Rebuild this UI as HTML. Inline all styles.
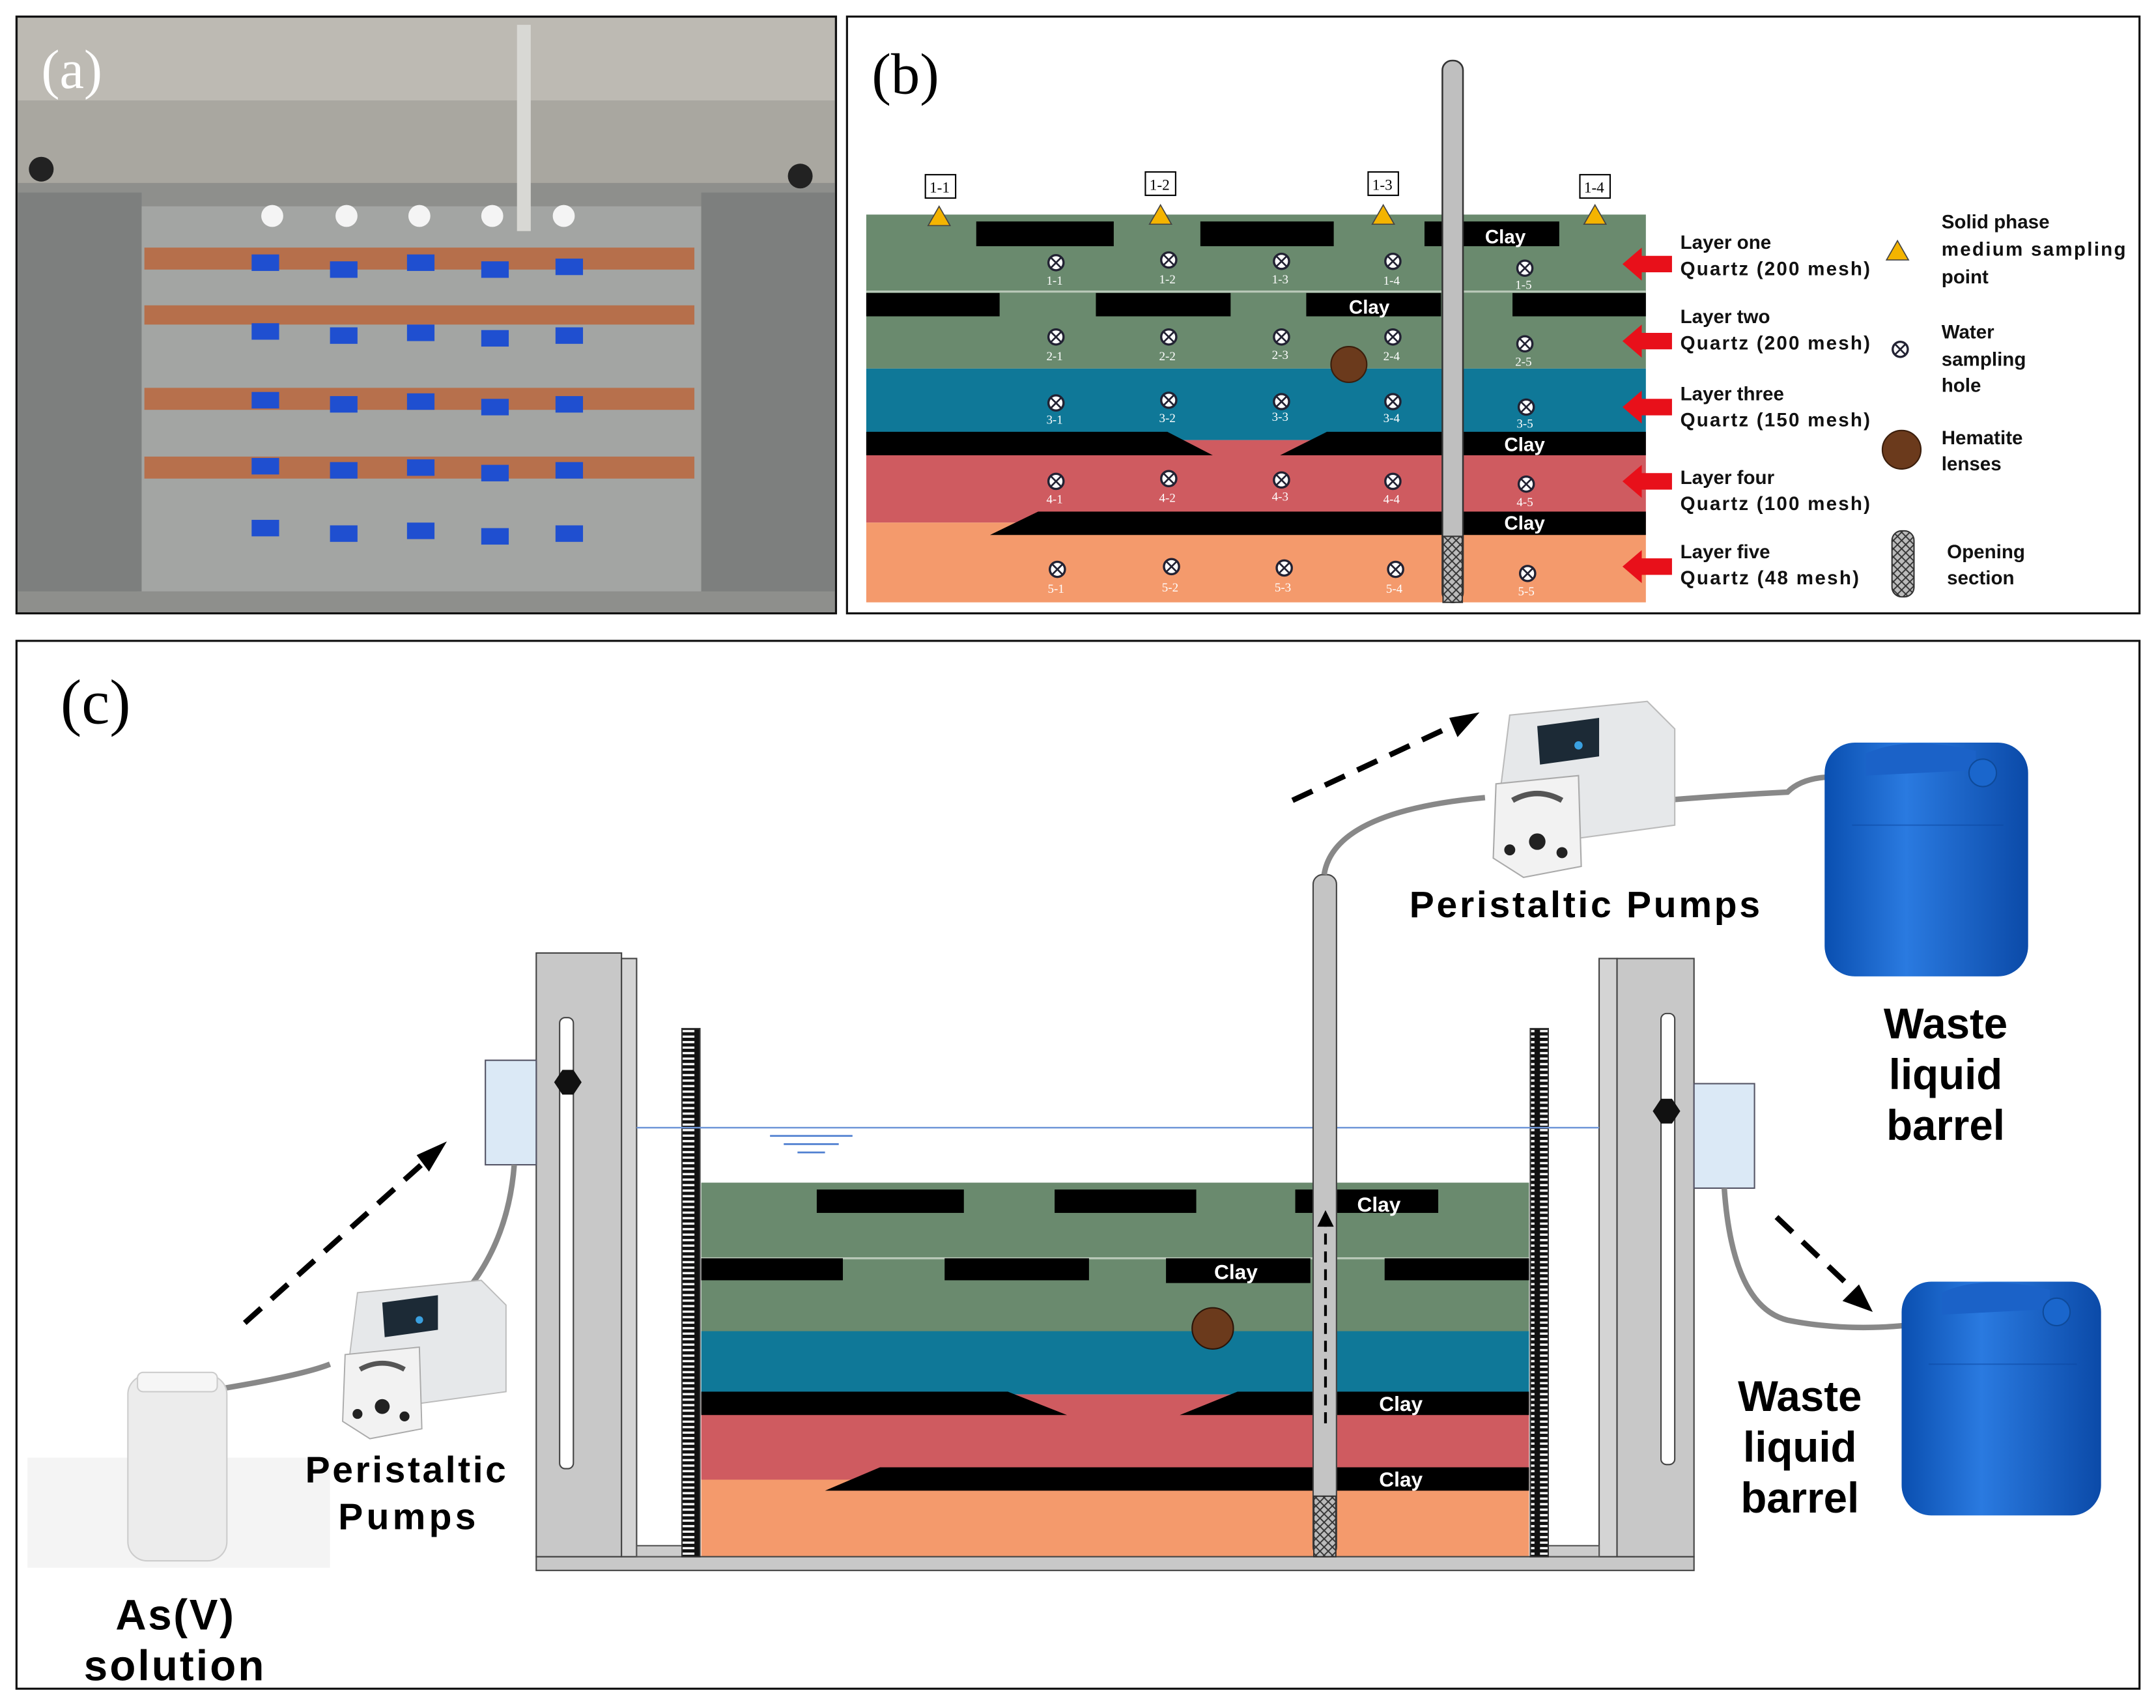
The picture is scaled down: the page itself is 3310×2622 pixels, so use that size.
<!DOCTYPE html>
<html><head><meta charset="utf-8"><style>
html,body{margin:0;padding:0;background:#fff;}
svg{display:block;}
text{font-family:"Liberation Sans",sans-serif;}
.s{font-family:"Liberation Serif",serif;}
</style></head><body>
<svg width="3310" height="2622" viewBox="0 0 1568 1242" xmlns="http://www.w3.org/2000/svg">
<defs>
<g id="hole"><circle r="5.5" fill="#fff" stroke="#223" stroke-width="1.6"/><path d="M-3.5-3.5L3.5 3.5M3.5-3.5L-3.5 3.5" stroke="#223" stroke-width="1.3"/></g>
<g id="tri"><path d="M0-8L8 6H-8Z" fill="#f4b400" stroke="#444" stroke-width="0.8"/></g>
<pattern id="mesh" width="6" height="6" patternUnits="userSpaceOnUse"><rect width="6" height="6" fill="#bbb"/><path d="M0 0L6 6M6 0L0 6" stroke="#333" stroke-width="0.9"/></pattern>
<pattern id="ruler" width="13" height="4" patternUnits="userSpaceOnUse"><rect width="13" height="4" fill="#111"/><rect x="2" y="1" width="9" height="1.6" fill="#fff"/></pattern>
<linearGradient id="bar" x1="0" x2="1"><stop offset="0" stop-color="#0a4fb0"/><stop offset="0.4" stop-color="#2a7ae0"/><stop offset="1" stop-color="#0b4aa8"/></linearGradient>
<g id="pump">
<path d="M20 0L120 -10L140 10L140 80L30 95L10 80Z" fill="#e6e8ea" stroke="#bbb"/>
<path d="M40 8L85 2L85 30L42 36Z" fill="#1c2a36"/>
<circle cx="70" cy="22" r="3" fill="#3aa0e0"/>
<path d="M10 50L70 44L72 110L30 118L8 104Z" fill="#f2f2f2" stroke="#aaa"/>
<path d="M22 62Q40 52 58 62" stroke="#555" stroke-width="4" fill="none"/>
<circle cx="40" cy="92" r="6" fill="#222"/><circle cx="20" cy="98" r="4" fill="#222"/><circle cx="58" cy="100" r="4" fill="#222"/>
</g>
<g id="barrel">
<rect x="0" y="0" width="148" height="170" rx="22" fill="url(#bar)"/>
<path d="M30 8Q60-6 110 6L110 20L30 24Z" fill="#1b62c8"/>
<circle cx="115" cy="22" r="10" fill="#1a66cc" stroke="#0e4a9a"/>
<path d="M20 60H130" stroke="#0d47a0" stroke-width="1" opacity="0.5"/>
</g>
</defs>

<rect x="12" y="12" width="596" height="434" fill="#8e8f8c" stroke="#111" stroke-width="1.5"/>
<rect x="616" y="12" width="940" height="434" fill="#fff" stroke="#111" stroke-width="1.5"/>
<rect x="12" y="466" width="1544" height="762" fill="#fff" stroke="#111" stroke-width="1.5"/>

<rect x="13" y="13" width="594" height="120" fill="#a9a7a0"/>
<rect x="13" y="13" width="594" height="60" fill="#bdbab3"/>
<rect x="100" y="150" width="410" height="280" fill="#a3a5a3"/>
<rect x="13" y="140" width="90" height="290" fill="#7d7f7e"/>
<rect x="510" y="140" width="97" height="290" fill="#7d7f7e"/>
<rect x="376" y="18" width="10" height="150" fill="#d8d8d4"/>
<g fill="#b96a42" opacity="0.9">
<rect x="105" y="180" width="400" height="16"/><rect x="105" y="222" width="400" height="14"/><rect x="105" y="282" width="400" height="16"/><rect x="105" y="332" width="400" height="16"/>
</g>
<g fill="#f4f4f4"><circle cx="198" cy="157" r="8"/><circle cx="252" cy="157" r="8"/><circle cx="305" cy="157" r="8"/><circle cx="358" cy="157" r="8"/><circle cx="410" cy="157" r="8"/></g>
<g fill="#1f4fd0">
<rect x="183" y="185" width="20" height="12"/><rect x="240" y="190" width="20" height="12"/><rect x="296" y="185" width="20" height="12"/><rect x="350" y="190" width="20" height="12"/><rect x="404" y="188" width="20" height="12"/>
<rect x="183" y="235" width="20" height="12"/><rect x="240" y="238" width="20" height="12"/><rect x="296" y="236" width="20" height="12"/><rect x="350" y="240" width="20" height="12"/><rect x="404" y="238" width="20" height="12"/>
<rect x="183" y="285" width="20" height="12"/><rect x="240" y="288" width="20" height="12"/><rect x="296" y="286" width="20" height="12"/><rect x="350" y="290" width="20" height="12"/><rect x="404" y="288" width="20" height="12"/>
<rect x="183" y="333" width="20" height="12"/><rect x="240" y="336" width="20" height="12"/><rect x="296" y="334" width="20" height="12"/><rect x="350" y="338" width="20" height="12"/><rect x="404" y="336" width="20" height="12"/>
<rect x="183" y="378" width="20" height="12"/><rect x="240" y="382" width="20" height="12"/><rect x="296" y="380" width="20" height="12"/><rect x="350" y="384" width="20" height="12"/><rect x="404" y="382" width="20" height="12"/>
</g>
<circle cx="30" cy="123" r="9" fill="#222"/><circle cx="582" cy="128" r="9" fill="#222"/>
<text x="30" y="64" class="s" font-size="40" fill="#fff">(a)</text>

<text x="634" y="68" class="s" font-size="42" fill="#000">(b)</text>
<rect x="630" y="156" width="567" height="112" fill="#6a8a6e"/>
<line x1="630" y1="212" x2="1197" y2="212" stroke="#b8c8b8" stroke-width="1.5"/>
<rect x="630" y="268" width="567" height="52" fill="#0f7898"/>
<rect x="630" y="320" width="567" height="60" fill="#cf5b60"/>
<rect x="630" y="380" width="567" height="58" fill="#f49a6c"/>
<g fill="#000">
<rect x="710" y="161" width="100" height="18"/><rect x="873" y="161" width="97" height="18"/><rect x="1036" y="161" width="98" height="18"/>
<rect x="630" y="213" width="97" height="17"/><rect x="797" y="213" width="98" height="17"/><rect x="950" y="213" width="98" height="17"/><rect x="1100" y="213" width="97" height="17"/>
<path d="M630 314H849L882 331H630Z"/><path d="M1197 314H965L931 331H1197Z"/>
<path d="M720 389L755 372H1197V389Z"/>
</g>
<g fill="#fff" font-weight="bold" font-size="14"><text x="1080" y="177">Clay</text><text x="981" y="228">Clay</text><text x="1094" y="328">Clay</text><text x="1094" y="385">Clay</text></g>
<circle cx="981" cy="265" r="13" fill="#6b3a1c" stroke="#3b1e0c"/>
<rect x="1049" y="44" width="15" height="394" rx="7" fill="#bfbfbf" stroke="#333" stroke-width="1.2"/>
<rect x="1049.5" y="390" width="14" height="48" fill="url(#mesh)" stroke="#333"/>
<g fill="#fff" font-size="9" class="s">
<use href="#hole" x="768" y="191"/><use href="#hole" x="850" y="189"/><use href="#hole" x="932" y="190"/><use href="#hole" x="1013" y="190"/><use href="#hole" x="1109" y="195"/>
<text x="761" y="207" class="s">1-1</text><text x="843" y="206" class="s">1-2</text><text x="925" y="206" class="s">1-3</text><text x="1006" y="207" class="s">1-4</text><text x="1102" y="210" class="s">1-5</text>
<use href="#hole" x="768" y="245"/><use href="#hole" x="850" y="245"/><use href="#hole" x="932" y="245"/><use href="#hole" x="1013" y="245"/><use href="#hole" x="1109" y="250"/>
<text x="761" y="262" class="s">2-1</text><text x="843" y="262" class="s">2-2</text><text x="925" y="261" class="s">2-3</text><text x="1006" y="262" class="s">2-4</text><text x="1102" y="266" class="s">2-5</text>
<use href="#hole" x="768" y="293"/><use href="#hole" x="850" y="291"/><use href="#hole" x="932" y="292"/><use href="#hole" x="1013" y="292"/><use href="#hole" x="1110" y="296"/>
<text x="761" y="308" class="s">3-1</text><text x="843" y="307" class="s">3-2</text><text x="925" y="306" class="s">3-3</text><text x="1006" y="307" class="s">3-4</text><text x="1103" y="311" class="s">3-5</text>
<use href="#hole" x="768" y="350"/><use href="#hole" x="850" y="348"/><use href="#hole" x="932" y="349"/><use href="#hole" x="1013" y="350"/><use href="#hole" x="1110" y="352"/>
<text x="761" y="366" class="s">4-1</text><text x="843" y="365" class="s">4-2</text><text x="925" y="364" class="s">4-3</text><text x="1006" y="366" class="s">4-4</text><text x="1103" y="368" class="s">4-5</text>
<use href="#hole" x="769" y="414"/><use href="#hole" x="852" y="412"/><use href="#hole" x="934" y="413"/><use href="#hole" x="1015" y="414"/><use href="#hole" x="1111" y="417"/>
<text x="762" y="431" class="s">5-1</text><text x="845" y="430" class="s">5-2</text><text x="927" y="430" class="s">5-3</text><text x="1008" y="431" class="s">5-4</text><text x="1104" y="433" class="s">5-5</text>
</g>
<g font-size="11" class="s" fill="#000">
<rect x="673" y="127" width="22" height="17" fill="#fff" stroke="#000"/><text x="676" y="140" class="s">1-1</text>
<rect x="833" y="125" width="22" height="17" fill="#fff" stroke="#000"/><text x="836" y="138" class="s">1-2</text>
<rect x="995" y="125" width="22" height="17" fill="#fff" stroke="#000"/><text x="998" y="138" class="s">1-3</text>
<rect x="1149" y="127" width="22" height="17" fill="#fff" stroke="#000"/><text x="1152" y="140" class="s">1-4</text>
</g>
<use href="#tri" x="683" y="158"/><use href="#tri" x="844" y="157"/><use href="#tri" x="1006" y="157"/><use href="#tri" x="1160" y="157"/>
<g fill="#e8101a">
<path d="M1180 192L1194 180V186H1216V198H1194V204Z"/><path d="M1180 248L1194 236V242H1216V254H1194V260Z"/><path d="M1180 296L1194 284V290H1216V302H1194V308Z"/><path d="M1180 350L1194 338V344H1216V356H1194V362Z"/><path d="M1180 412L1194 400V406H1216V418H1194V424Z"/>
</g>
<g font-size="14" font-weight="bold" fill="#111">
<text x="1222" y="181">Layer one</text><text x="1222" y="200" textLength="138">Quartz (200 mesh)</text>
<text x="1222" y="235">Layer two</text><text x="1222" y="254" textLength="138">Quartz (200 mesh)</text>
<text x="1222" y="291">Layer three</text><text x="1222" y="310" textLength="138">Quartz (150 mesh)</text>
<text x="1222" y="352">Layer four</text><text x="1222" y="371" textLength="138">Quartz (100 mesh)</text>
<text x="1222" y="406">Layer five</text><text x="1222" y="425" textLength="130">Quartz (48 mesh)</text>
<text x="1412" y="166">Solid phase</text><text x="1412" y="186" textLength="134">medium sampling</text><text x="1412" y="206">point</text>
<text x="1412" y="246">Water</text><text x="1412" y="266">sampling</text><text x="1412" y="285">hole</text>
<text x="1412" y="323">Hematite</text><text x="1412" y="342">lenses</text>
<text x="1416" y="406">Opening</text><text x="1416" y="425">section</text>
</g>
<use href="#tri" x="1380" y="183"/>
<use href="#hole" x="1382" y="254"/>
<circle cx="1383" cy="327" r="14" fill="#6b3a1c" stroke="#3b1e0c"/>
<rect x="1376" y="386" width="16" height="48" rx="7" fill="url(#mesh)" stroke="#333"/>

<text x="44" y="526" class="s" font-size="46" fill="#000">(c)</text>
<rect x="510" y="860" width="602" height="108" fill="#6a8a6e"/>
<line x1="510" y1="915" x2="1112" y2="915" stroke="#b8c8b8" stroke-width="1.5"/>
<rect x="510" y="968" width="602" height="46" fill="#0f7898"/>
<rect x="510" y="1014" width="602" height="62" fill="#cf5b60"/>
<rect x="510" y="1076" width="602" height="56" fill="#f49a6c"/>
<g fill="#000">
<rect x="594" y="865" width="107" height="17"/><rect x="767" y="865" width="103" height="17"/><rect x="942" y="865" width="104" height="17"/>
<rect x="510" y="915" width="103" height="16"/><rect x="687" y="915" width="105" height="16"/><rect x="848" y="915" width="105" height="18"/><rect x="1007" y="915" width="105" height="16"/>
<path d="M510 1012H733L776 1029H510Z"/><path d="M1112 1012H900L858 1029H1112Z"/>
<path d="M600 1084L640 1067H1112V1084Z"/>
</g>
<g fill="#fff" font-weight="bold" font-size="15"><text x="987" y="881">Clay</text><text x="883" y="930">Clay</text><text x="1003" y="1026">Clay</text><text x="1003" y="1081">Clay</text></g>
<circle cx="882" cy="966" r="15" fill="#6b3a1c" stroke="#2b1408"/>
<rect x="390" y="1132" width="842" height="10" fill="#c8c8c8" stroke="#444"/>
<rect x="390" y="693" width="62" height="439" fill="#c8c8c8" stroke="#444"/>
<rect x="452" y="697" width="11" height="435" fill="#d4d4d4" stroke="#444"/>
<rect x="407" y="740" width="10" height="328" rx="4" fill="#fff" stroke="#444"/>
<rect x="1176" y="697" width="56" height="435" fill="#c8c8c8" stroke="#444"/>
<rect x="1163" y="697" width="13" height="435" fill="#d4d4d4" stroke="#444"/>
<rect x="1208" y="737" width="10" height="328" rx="4" fill="#fff" stroke="#444"/>
<rect x="463" y="1124" width="33" height="8" fill="#ccc" stroke="#555"/>
<rect x="1126" y="1124" width="37" height="8" fill="#ccc" stroke="#555"/>
<rect x="496" y="748" width="13" height="384" fill="url(#ruler)" stroke="#333"/>
<rect x="1113" y="748" width="13" height="384" fill="url(#ruler)" stroke="#333"/>
<line x1="463" y1="820" x2="1163" y2="820" stroke="#6f96d8" stroke-width="1.2"/>
<g stroke="#4f7fd0" stroke-width="1.3"><line x1="560" y1="826" x2="620" y2="826"/><line x1="570" y1="832" x2="610" y2="832"/><line x1="580" y1="838" x2="600" y2="838"/></g>
<rect x="353" y="771" width="37" height="76" fill="#dbe9f6" stroke="#556"/>
<rect x="1232" y="788" width="44" height="76" fill="#dbe9f6" stroke="#556"/>
<path d="M403 787l6-9h8l6 9l-6 9h-8z" fill="#111"/>
<path d="M1202 808l6-9h8l6 9l-6 9h-8z" fill="#111"/>
<rect x="955" y="636" width="17" height="496" rx="7" fill="#c4c4c4" stroke="#444"/>
<rect x="955.5" y="1088" width="16" height="44" fill="url(#mesh)" stroke="#333"/>
<line x1="964" y1="1035" x2="964" y2="890" stroke="#000" stroke-width="2" stroke-dasharray="8,5"/>
<path d="M958 892L964 880L970 892Z" fill="#000"/>
<path d="M963 636Q970 590 1080 580" stroke="#888" stroke-width="4" fill="none"/>
<path d="M1210 582Q1260 578 1300 576Q1310 566 1330 565" stroke="#888" stroke-width="4" fill="none"/>
<path d="M160 1010Q220 1000 240 992" stroke="#888" stroke-width="4" fill="none"/>
<path d="M340 938Q370 900 374 847" stroke="#888" stroke-width="4" fill="none"/>
<path d="M1254 864Q1260 950 1300 960Q1340 968 1384 964" stroke="#888" stroke-width="4" fill="none"/>
<use href="#pump" x="1078" y="520"/>
<use href="#pump" x="242" y="940" transform="translate(242,940) scale(0.9) translate(-242,-940)"/>
<use href="#barrel" x="1327" y="540"/>
<use href="#barrel" x="1383" y="932" transform="translate(1383,932) scale(0.98,1) translate(-1383,-932)"/>
<rect x="20" y="1060" width="220" height="80" fill="#f4f4f4"/>
<rect x="93" y="1000" width="72" height="135" rx="14" fill="#ececec" stroke="#ccc"/>
<rect x="100" y="998" width="58" height="14" rx="4" fill="#f6f6f6" stroke="#ccc"/>
<g stroke="#000" stroke-width="4" stroke-dasharray="16,10" fill="none">
<line x1="178" y1="962" x2="312" y2="842"/>
<line x1="940" y1="582" x2="1060" y2="526"/>
<line x1="1292" y1="885" x2="1350" y2="940"/>
</g>
<path d="M325 830L312 852L303 840Z" fill="#000"/>
<path d="M1076 518L1060 536L1054 522Z" fill="#000"/>
<path d="M1362 954L1340 946L1352 934Z" fill="#000"/>
<g font-weight="bold" fill="#000">
<text x="1025" y="667" font-size="27" textLength="255">Peristaltic Pumps</text>
<text x="222" y="1078" font-size="27" textLength="146">Peristaltic</text>
<text x="246" y="1112" font-size="27" textLength="100">Pumps</text>
<text x="84" y="1185" font-size="31" textLength="86">As(V)</text>
<text x="61" y="1222" font-size="31" textLength="131">solution</text>
<text x="1415" y="755" font-size="31" text-anchor="middle">Waste</text>
<text x="1415" y="792" font-size="31" text-anchor="middle">liquid</text>
<text x="1415" y="829" font-size="31" text-anchor="middle">barrel</text>
<text x="1309" y="1026" font-size="31" text-anchor="middle">Waste</text>
<text x="1309" y="1063" font-size="31" text-anchor="middle">liquid</text>
<text x="1309" y="1100" font-size="31" text-anchor="middle">barrel</text>
</g>
</svg>
</body></html>
